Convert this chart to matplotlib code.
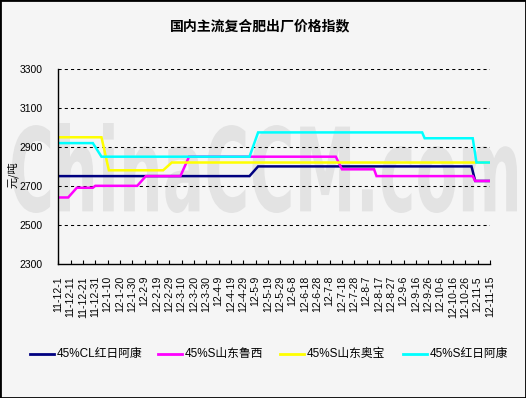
import matplotlib
matplotlib.use("Agg")
import matplotlib.pyplot as plt
import pandas as pd
from matplotlib.lines import Line2D
from matplotlib.textpath import TextPath
from matplotlib.font_manager import FontProperties
from matplotlib.patches import PathPatch, Rectangle
from matplotlib.transforms import Affine2D

plt.rcParams["font.family"] = ["Liberation Sans", "Noto Sans CJK SC", "DejaVu Sans"]

# =========================
# Datos
# =========================
START = "2011-12-01"
title = "国内主流复合肥出厂价格指数"
ylabel = "元/吨"

tick_labels = [
    "11-12-1", "11-12-11", "11-12-21", "11-12-31", "12-1-10", "12-1-20",
    "12-1-30", "12-2-9", "12-2-19", "12-2-29", "12-3-10", "12-3-20",
    "12-3-30", "12-4-9", "12-4-19", "12-4-29", "12-5-9", "12-5-19",
    "12-5-29", "12-6-8", "12-6-18", "12-6-28", "12-7-8", "12-7-18",
    "12-7-28", "12-8-7", "12-8-17", "12-8-27", "12-9-6", "12-9-16",
    "12-9-26", "12-10-6", "12-10-16", "12-10-26", "12-11-5", "12-11-15",
]
yticks = [2300, 2500, 2700, 2900, 3100, 3300]

navy_dates = ["2011-12-01", "2012-05-04", "2012-05-11", "2012-10-31", "2012-11-03", "2012-11-15"]
navy_vals = [2750, 2750, 2800, 2800, 2725, 2725]

magenta_dates = ["2011-12-01", "2011-12-09", "2011-12-16", "2011-12-29", "2011-12-31",
                 "2012-02-03", "2012-02-10", "2012-03-09", "2012-03-16", "2012-07-13",
                 "2012-07-18", "2012-08-13", "2012-08-15", "2012-11-01", "2012-11-03",
                 "2012-11-15"]
magenta_vals = [2640, 2640, 2690, 2690, 2700, 2700, 2750, 2750, 2850, 2850,
                2785, 2785, 2750, 2750, 2725, 2725]

yellow_dates = ["2011-12-01", "2012-01-05", "2012-01-11", "2012-02-24", "2012-03-02", "2012-11-15"]
yellow_vals = [2950, 2950, 2780, 2780, 2820, 2820]

cyan_dates = ["2011-12-01", "2011-12-29", "2012-01-05", "2012-05-04", "2012-05-11",
              "2012-09-21", "2012-09-23", "2012-11-01", "2012-11-04", "2012-11-15"]
cyan_vals = [2920, 2920, 2850, 2850, 2975, 2975, 2945, 2945, 2820, 2820]

series_names = ["45%CL红日阿康", "45%S山东鲁西", "45%S山东奥宝", "45%S红日阿康"]
series_colors = ["#000080", "#ff00ff", "#ffff00", "#00ffff"]
series_dates = [navy_dates, magenta_dates, yellow_dates, cyan_dates]
series_vals = [navy_vals, magenta_vals, yellow_vals, cyan_vals]


def to_days(dates):
    return (pd.to_datetime(dates) - pd.Timestamp(START)).days


# =========================
# Figura
# =========================
W, H = 526, 398
fig = plt.figure(figsize=(W / 100, H / 100), dpi=100, facecolor="#f5f5f5")

# marca de agua
prop = FontProperties(family="DejaVu Sans", weight="bold")
tp = TextPath((0, 0), "ChinaCCM.com", prop=prop, size=1)
ext = tp.get_extents()
bx0, bx1, by0, by1 = 12, 517, 185, 275
tr = (Affine2D().translate(-ext.x0, -ext.y0)
      .scale((bx1 - bx0) / ext.width / W, (by1 - by0) / ext.height / H)
      .translate(bx0 / W, by0 / H) + fig.transFigure)
fig.add_artist(PathPatch(tp, transform=tr, facecolor="#e3e3e3", edgecolor="none", zorder=-1))

ax = fig.add_axes([58.3 / W, 1 - 263.5 / H, (490 - 58.3) / W, (263.5 - 69.3) / H])
ax.set_facecolor("none")

for d, v, c in zip(series_dates, series_vals, series_colors):
    ax.plot(to_days(d), v, color=c, lw=1.8, solid_joinstyle="miter")

ax.set_xlim(0, 350)
ax.set_ylim(2300, 3300)
ax.set_yticks(yticks)
ax.set_xticks(range(0, 351, 10))
ax.set_xticklabels(tick_labels, rotation=90, fontsize=7.5)
ax.tick_params(axis="x", direction="in", length=3, width=0.8, pad=9)
ax.tick_params(axis="y", length=0, pad=11, labelsize=7.5)

for y in yticks[1:]:
    ax.axhline(y, color="black", lw=0.75, dashes=(3, 3), zorder=0.5)

for s in ["top", "right"]:
    ax.spines[s].set_visible(False)
for s in ["left", "bottom"]:
    ax.spines[s].set_linewidth(1)

fig.text(260 / W, 1 - 26 / H, title, ha="center", va="center",
         fontsize=10, fontweight="bold", family=["Noto Sans CJK SC"])
fig.text(13 / W, 1 - 175 / H, ylabel, ha="center", va="center", rotation=90,
         fontsize=8, family=["Noto Sans CJK SC"])

# leyenda
leg_x = [30, 158, 280, 403]
leg_y = 1 - 354 / H
for x0, name, c in zip(leg_x, series_names, series_colors):
    fig.add_artist(Line2D([x0 / W, (x0 + 24) / W], [leg_y, leg_y], color=c, lw=2))
    fig.text((x0 + 27) / W, leg_y, name, ha="left", va="center", fontsize=8.5)

fig.add_artist(Rectangle((0, 0), 1, 1, transform=fig.transFigure, fill=False,
                         edgecolor="black", lw=2))

fig.savefig("out.png", dpi=100, facecolor=fig.get_facecolor())
